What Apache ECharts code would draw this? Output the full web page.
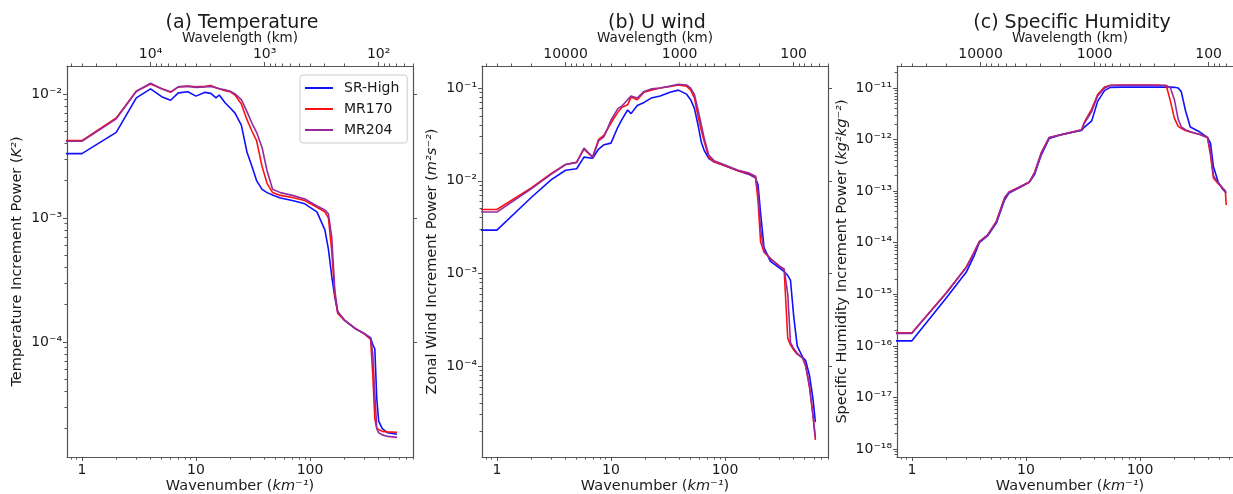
<!DOCTYPE html>
<html>
<head>
<meta charset="utf-8">
<script src="https://cdn.jsdelivr.net/npm/echarts@6/dist/echarts.min.js"></script>
<style>
  html, body { margin: 0; padding: 0; background: #fff; }
  #main { width: 1233px; height: 494px; }
</style>
</head>
<body>
<div id="main"></div>
<script>
// wavelength (km) = EARTH / wavenumber
const EARTH = 40000;

// (a) Temperature
const wavenumberT = [0.5, 1, 2, 3, 4, 5, 6, 7, 8.5, 10, 12, 13.5, 15, 16, 18, 20, 22, 25, 28, 31, 34, 38, 42, 47, 55, 70, 90, 115, 135, 145, 155, 165, 175, 200, 250, 300, 340, 355, 370, 385, 400, 430, 480, 580];
const tempSRHigh = [3.3e-3, 3.3e-3, 4.9e-3, 9.3e-3, 1.1e-2, 9.5e-3, 8.9e-3, 1.02e-2, 1.04e-2, 9.6e-3, 1.03e-2, 1.01e-2, 9.3e-3, 9.8e-3, 8.5e-3, 7.7e-3, 7.0e-3, 5.6e-3, 3.4e-3, 2.6e-3, 2.0e-3, 1.7e-3, 1.6e-3, 1.53e-3, 1.45e-3, 1.38e-3, 1.3e-3, 1.12e-3, 8.0e-4, 5.6e-4, 3.4e-4, 2.3e-4, 1.75e-4, 1.5e-4, 1.28e-4, 1.16e-4, 1.08e-4, 9.5e-5, 8.8e-5, 3.5e-5, 2.3e-5, 2.0e-5, 1.85e-5, 1.8e-5];
const tempMR170 = [4.2e-3, 4.2e-3, 6.4e-3, 1.05e-2, 1.2e-2, 1.1e-2, 1.03e-2, 1.14e-2, 1.16e-2, 1.14e-2, 1.15e-2, 1.17e-2, 1.12e-2, 1.1e-2, 1.06e-2, 1.04e-2, 9.8e-3, 8.3e-3, 6.2e-3, 5.0e-3, 4.2e-3, 2.6e-3, 1.9e-3, 1.6e-3, 1.52e-3, 1.46e-3, 1.38e-3, 1.22e-3, 1.12e-3, 1.0e-3, 5.5e-4, 2.4e-4, 1.7e-4, 1.5e-4, 1.28e-4, 1.16e-4, 1.05e-4, 5.5e-5, 2.4e-5, 2.0e-5, 1.95e-5, 1.9e-5, 1.88e-5, 1.87e-5];
const tempMR204 = [4.15e-3, 4.15e-3, 6.3e-3, 1.05e-2, 1.22e-2, 1.1e-2, 1.04e-2, 1.14e-2, 1.15e-2, 1.13e-2, 1.14e-2, 1.15e-2, 1.12e-2, 1.1e-2, 1.08e-2, 1.05e-2, 1.0e-2, 9.0e-3, 7.2e-3, 5.8e-3, 4.9e-3, 3.7e-3, 2.4e-3, 1.7e-3, 1.6e-3, 1.52e-3, 1.42e-3, 1.25e-3, 1.16e-3, 1.08e-3, 7.0e-4, 2.6e-4, 1.75e-4, 1.5e-4, 1.28e-4, 1.17e-4, 1.07e-4, 8.0e-5, 3.8e-5, 2.0e-5, 1.85e-5, 1.78e-5, 1.73e-5, 1.7e-5];

// (b) U wind
const wavenumberU = [0.5, 1, 2, 3, 4, 5, 5.8, 6.9, 7.8, 8.7, 10, 11.5, 12.5, 14, 15, 17, 19.5, 22.5, 27, 33, 39, 46, 50, 54, 58, 62, 66, 72, 80, 100, 130, 160, 185, 195, 205, 220, 250, 300, 330, 355, 375, 400, 430, 480, 510, 550, 590, 620];
const uSRHigh = [2.94e-3, 2.94e-3, 6.6e-3, 1.03e-2, 1.3e-2, 1.35e-2, 1.8e-2, 1.75e-2, 2.2e-2, 2.45e-2, 2.55e-2, 3.8e-2, 4.6e-2, 5.8e-2, 5.3e-2, 6.5e-2, 7.0e-2, 7.8e-2, 8.2e-2, 9.0e-2, 9.5e-2, 8.6e-2, 7.5e-2, 6.0e-2, 4.0e-2, 2.6e-2, 2.1e-2, 1.75e-2, 1.6e-2, 1.45e-2, 1.28e-2, 1.18e-2, 1.08e-2, 9.0e-3, 4.5e-3, 1.9e-3, 1.35e-3, 1.15e-3, 1.05e-3, 9.5e-4, 8.5e-4, 3.5e-4, 1.65e-4, 1.25e-4, 1.15e-4, 8.0e-5, 4.5e-5, 2.5e-5];
const uMR170 = [4.9e-3, 4.9e-3, 8.4e-3, 1.2e-2, 1.5e-2, 1.58e-2, 2.2e-2, 1.8e-2, 2.8e-2, 3.1e-2, 4.2e-2, 5.5e-2, 6.2e-2, 6.6e-2, 8.0e-2, 7.5e-2, 9.0e-2, 9.5e-2, 1.0e-1, 1.04e-1, 1.08e-1, 1.05e-1, 9.5e-2, 7.8e-2, 5.0e-2, 3.5e-2, 2.6e-2, 1.8e-2, 1.6e-2, 1.45e-2, 1.28e-2, 1.2e-2, 1.1e-2, 6.0e-3, 2.2e-3, 1.7e-3, 1.45e-3, 1.2e-3, 1.1e-3, 2.0e-4, 1.7e-4, 1.5e-4, 1.35e-4, 1.22e-4, 1.0e-4, 6.0e-5, 3.0e-5, 1.6e-5];
const uMR204 = [4.6e-3, 4.6e-3, 8.2e-3, 1.18e-2, 1.5e-2, 1.58e-2, 2.25e-2, 1.8e-2, 2.7e-2, 3.0e-2, 4.5e-2, 6.0e-2, 6.4e-2, 7.5e-2, 8.2e-2, 7.8e-2, 9.2e-2, 9.8e-2, 1.0e-1, 1.05e-1, 1.1e-1, 1.08e-1, 1.0e-1, 8.5e-2, 5.8e-2, 4.0e-2, 2.8e-2, 1.9e-2, 1.65e-2, 1.48e-2, 1.3e-2, 1.22e-2, 1.12e-2, 7.5e-3, 3.0e-3, 1.75e-3, 1.45e-3, 1.2e-3, 1.12e-3, 6.0e-4, 1.8e-4, 1.55e-4, 1.38e-4, 1.22e-4, 1.02e-4, 6.2e-5, 3.0e-5, 1.7e-5];

// (c) Specific humidity
const wavenumberQ = [0.5, 1, 2, 3, 3.5, 3.9, 4.6, 5.5, 6.5, 7.1, 8.8, 10.7, 11.9, 13.6, 16, 19.7, 25, 30.7, 32.6, 37.7, 42.5, 49, 55, 70, 100, 140, 170, 185, 200, 216, 230, 250, 276, 335, 390, 415, 440, 485, 530, 560, 570];
const qSRHigh = [1.25e-16, 1.25e-16, 8.5e-16, 2.7e-15, 5.5e-15, 1.0e-14, 1.35e-14, 2.4e-14, 6.8e-14, 9.2e-14, 1.18e-13, 1.48e-13, 2.1e-13, 5.0e-13, 1.05e-12, 1.22e-12, 1.37e-12, 1.5e-12, 1.75e-12, 2.3e-12, 5.5e-12, 9.0e-12, 1.03e-11, 1.04e-11, 1.04e-11, 1.04e-11, 1.04e-11, 1.04e-11, 1.03e-11, 1.0e-11, 8.5e-12, 3.7e-12, 1.75e-12, 1.4e-12, 1.1e-12, 8.5e-13, 3.0e-13, 1.5e-13, 1.1e-13, 9.6e-14, 9.2e-14];
const qMR170 = [1.8e-16, 1.8e-16, 1.07e-15, 3.4e-15, 6.5e-15, 1.05e-14, 1.4e-14, 2.6e-14, 7.5e-14, 9.6e-14, 1.2e-13, 1.5e-13, 2.3e-13, 5.5e-13, 1.1e-12, 1.23e-12, 1.38e-12, 1.55e-12, 2.2e-12, 3.9e-12, 7.5e-12, 1.05e-11, 1.13e-11, 1.14e-11, 1.14e-11, 1.14e-11, 1.12e-11, 5.5e-12, 2.6e-12, 1.8e-12, 1.65e-12, 1.5e-12, 1.4e-12, 1.25e-12, 1.1e-12, 5.0e-13, 1.8e-13, 1.4e-13, 1.15e-13, 1.0e-13, 5.4e-14];
const qMR204 = [1.75e-16, 1.75e-16, 1.05e-15, 3.3e-15, 6.3e-15, 1.05e-14, 1.4e-14, 2.55e-14, 7.3e-14, 9.5e-14, 1.2e-13, 1.5e-13, 2.25e-13, 5.4e-13, 1.1e-12, 1.23e-12, 1.38e-12, 1.53e-12, 2.1e-12, 3.5e-12, 7.0e-12, 1.0e-11, 1.12e-11, 1.13e-11, 1.13e-11, 1.13e-11, 1.12e-11, 1.0e-11, 6.0e-12, 2.5e-12, 1.75e-12, 1.55e-12, 1.42e-12, 1.25e-12, 1.1e-12, 6.0e-13, 2.0e-13, 1.45e-13, 1.15e-13, 1.0e-13, 9.8e-14];

const seriesNames = ['SR-High', 'MR170', 'MR204'];
const seriesColors = ['#1010ff', '#ff1010', '#952a9e'];

const FONT = 'DejaVu Sans';
const TXT = '#1a1a1a';
const AX = '#555';

const panels = [
  {
    title: '(a) Temperature', left: 67,
    yName: 'Temperature Increment Power ({i|K²})', yGap: 42,
    ymin: 1.18e-5, ymax: 1.68e-2, topPow: true,
    k: wavenumberT, values: [tempSRHigh, tempMR170, tempMR204]
  },
  {
    title: '(b) U wind', left: 482,
    yName: 'Zonal Wind Increment Power ({i|m²s⁻²})', yGap: 42,
    ymin: 1.05e-5, ymax: 0.173, topPow: false,
    k: wavenumberU, values: [uSRHigh, uMR170, uMR204]
  },
  {
    title: '(c) Specific Humidity', left: 897,
    yName: 'Specific Humidity Increment Power ({i|kg²kg⁻²})', yGap: 47,
    ymin: 7e-19, ymax: 2.67e-11, topPow: false,
    k: wavenumberQ, values: [qSRHigh, qMR170, qMR204]
  }
];

const XMIN = 0.74, XMAX = 800;
const GRID_TOP = 66, GRID_W = 346, GRID_H = 391;

const SUP = {'-': '⁻', '0': '⁰', '1': '¹', '2': '²', '3': '³', '4': '⁴', '5': '⁵', '6': '⁶', '7': '⁷', '8': '⁸', '9': '⁹'};
function powLabel(v) {
  const e = Math.round(Math.log10(v));
  return '10' + String(e).split('').map(c => SUP[c]).join('');
}
function plainLabel(v) { return String(Math.round(v)); }

// powers of ten inside [lo, hi]
function decades(lo, hi) {
  const out = [];
  for (let e = Math.floor(Math.log10(lo)); e <= Math.ceil(Math.log10(hi)); e++) {
    const v = Math.pow(10, e);
    if (v >= lo && v <= hi) out.push(v);
  }
  return out;
}
// 2..9 x 10^e inside [lo, hi]
function minors(lo, hi) {
  const out = [];
  for (let e = Math.floor(Math.log10(lo)) - 1; e <= Math.ceil(Math.log10(hi)); e++) {
    for (let m = 2; m <= 9; m++) {
      const v = m * Math.pow(10, e);
      if (v >= lo && v <= hi) out.push(v);
    }
  }
  return out;
}

const labelStyle = {fontSize: 14, color: TXT, fontFamily: FONT};
const italic = {i: {fontStyle: 'italic', fontSize: 14.5, fontFamily: FONT, color: TXT}};
const minorTick = {show: true, length: 2.5, lineStyle: {color: AX, width: 1}};

const grids = [], xAxes = [], yAxes = [], series = [], titles = [];

panels.forEach(p => {
  const rect = {left: p.left, top: GRID_TOP, width: GRID_W, height: GRID_H, outerBoundsMode: 'none', containLabel: false};
  const g = grids.length;
  grids.push(Object.assign({}, rect));
  const gm = grids.length;
  grids.push(Object.assign({}, rect));

  const wlMin = EARTH / XMAX, wlMax = EARTH / XMIN;
  const xi = xAxes.length;
  // main bottom: wavenumber
  xAxes.push({
    type: 'log', gridIndex: g, position: 'bottom', min: XMIN, max: XMAX,
    axisLine: {show: true, onZero: false, lineStyle: {color: AX, width: 1.2}},
    axisTick: {show: true, length: 4, lineStyle: {color: AX}, customValues: decades(XMIN, XMAX)},
    axisLabel: Object.assign({show: true, margin: 6, customValues: decades(XMIN, XMAX), formatter: plainLabel}, labelStyle),
    splitLine: {show: false},
    name: 'Wavenumber ({i|km⁻¹})', nameLocation: 'middle', nameGap: 22, nameMoveOverlap: false,
    nameTextStyle: {fontSize: 14.5, color: TXT, fontFamily: FONT, rich: italic}
  });
  // main top: wavelength
  xAxes.push({
    type: 'log', gridIndex: g, position: 'top', inverse: true, min: wlMin, max: wlMax,
    axisLine: {show: true, onZero: false, lineStyle: {color: AX, width: 1.2}},
    axisTick: {show: true, length: 4, lineStyle: {color: AX}, customValues: decades(wlMin, wlMax)},
    axisLabel: Object.assign({show: true, margin: 5, customValues: decades(wlMin, wlMax), formatter: p.topPow ? powLabel : plainLabel}, labelStyle),
    splitLine: {show: false},
    name: 'Wavelength (km)', nameLocation: 'middle', nameGap: 21, nameMoveOverlap: false,
    nameTextStyle: {fontSize: 13.5, color: TXT, fontFamily: FONT}
  });
  // minor ticks
  xAxes.push({
    type: 'log', gridIndex: gm, position: 'bottom', min: XMIN, max: XMAX,
    axisLine: {show: false}, axisLabel: {show: false}, splitLine: {show: false},
    axisTick: Object.assign({customValues: minors(XMIN, XMAX)}, minorTick)
  });
  xAxes.push({
    type: 'log', gridIndex: gm, position: 'top', inverse: true, min: wlMin, max: wlMax,
    axisLine: {show: false}, axisLabel: {show: false}, splitLine: {show: false},
    axisTick: Object.assign({customValues: minors(wlMin, wlMax)}, minorTick)
  });

  const yi = yAxes.length;
  yAxes.push({
    type: 'log', gridIndex: g, position: 'left', min: p.ymin, max: p.ymax,
    axisLine: {show: true, onZero: false, lineStyle: {color: AX, width: 1.2}},
    axisTick: {show: true, length: 4, lineStyle: {color: AX}, customValues: decades(p.ymin, p.ymax)},
    axisLabel: Object.assign({show: true, margin: 5, customValues: decades(p.ymin, p.ymax), formatter: powLabel}, labelStyle),
    splitLine: {show: false},
    name: p.yName, nameLocation: 'middle', nameGap: p.yGap, nameMoveOverlap: false,
    nameTextStyle: {fontSize: 14.5, color: TXT, fontFamily: FONT, rich: italic}
  });
  yAxes.push({
    type: 'log', gridIndex: g, position: 'right', min: p.ymin, max: p.ymax,
    axisLine: {show: true, onZero: false, lineStyle: {color: AX, width: 1.2}},
    axisTick: {show: true, length: 4, lineStyle: {color: AX}, customValues: decades(p.ymin, p.ymax)},
    axisLabel: {show: false}, splitLine: {show: false}
  });
  yAxes.push({
    type: 'log', gridIndex: gm, position: 'left', min: p.ymin, max: p.ymax,
    axisLine: {show: false}, axisLabel: {show: false}, splitLine: {show: false},
    axisTick: Object.assign({customValues: minors(p.ymin, p.ymax)}, minorTick)
  });

  p.values.forEach((vals, s) => {
    series.push({
      name: seriesNames[s], type: 'line', xAxisIndex: xi, yAxisIndex: yi,
      data: p.k.map((k, j) => [k, vals[j]]),
      showSymbol: false, symbol: 'none', clip: true,
      lineStyle: {width: 1.6, color: seriesColors[s]},
      itemStyle: {color: seriesColors[s]},
      emphasis: {disabled: true}
    });
  });

  titles.push({
    text: p.title, left: p.left + GRID_W / 2 - 3, top: 9, textAlign: 'center',
    textStyle: {fontSize: 19, fontWeight: 'normal', color: TXT, fontFamily: FONT}
  });
});

const chart = echarts.init(document.getElementById('main'), null, {renderer: 'canvas'});
chart.setOption({
  animation: false,
  backgroundColor: '#fff',
  title: titles,
  legend: {
    data: seriesNames, orient: 'vertical', left: 300, top: 75,
    icon: 'rect', itemWidth: 28, itemHeight: 2, itemGap: 7,
    backgroundColor: '#fff', borderColor: '#ccc', borderWidth: 1, borderRadius: 3,
    padding: [6, 8, 6, 5],
    textStyle: {fontSize: 14, color: TXT, fontFamily: FONT, padding: [0, 0, 0, 6]}
  },
  grid: grids,
  xAxis: xAxes,
  yAxis: yAxes,
  series: series
});
</script>
</body>
</html>
